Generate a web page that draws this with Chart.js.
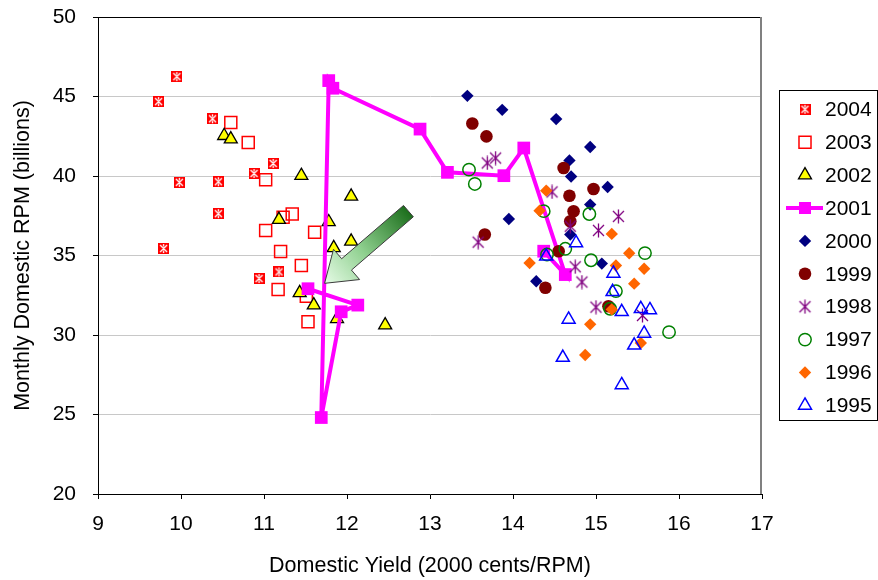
<!DOCTYPE html>
<html>
<head>
<meta charset="utf-8">
<script src="https://cdn.jsdelivr.net/npm/chart.js@4.4.1/dist/chart.umd.min.js"></script>
<style>
    html, body { margin: 0; padding: 0; background: #fff; }
</style>
</head>
<body>
<canvas id="rpmChart" width="878" height="580"></canvas>
<script>
// [yield, rpm] pairs
const y2004 = [[9.95,46.25],[9.73,44.68],[10.38,43.6],[9.98,39.6],[10.45,39.64],[10.88,40.16],[11.11,40.79],[10.45,37.63],[9.79,35.44],[10.94,33.55],[11.18,33.97]];
const y2003 = [[10.60,43.36],[10.81,42.11],[11.02,39.77],[11.23,37.40],[11.34,37.61],[11.02,36.57],[11.61,36.46],[11.20,35.25],[11.45,34.37],[11.17,32.86],[11.51,32.44],[11.53,30.83]];
const y2002 = [[10.52,42.53],[10.60,42.32],[11.45,40.02],[12.05,38.72],[11.18,37.26],[11.78,37.11],[11.84,35.48],[12.05,35.89],[11.43,32.65],[11.60,31.88],[11.88,31.02],[12.46,30.62]];
const y2001 = [[14.37,35.27],[14.63,33.80],[14.13,41.76],[13.89,40.02],[13.21,40.23],[12.88,42.95],[11.83,45.52],[11.78,46.0],[11.69,24.81],[11.93,31.46],[12.13,31.88],[11.53,32.91]];
const y2000 = [[13.45,45.04],[13.87,44.16],[14.52,43.58],[14.93,41.82],[14.68,40.98],[14.70,39.97],[15.14,39.31],[14.93,38.20],[13.95,37.30],[14.69,36.32],[15.07,34.49],[14.28,33.38]];
const y1999 = [[13.51,43.30],[13.68,42.49],[13.66,36.32],[14.61,40.50],[14.97,39.18],[14.68,38.76],[14.73,37.78],[14.69,37.15],[14.55,35.27],[14.39,32.97],[15.15,31.81]];
const y1998 = [[13.69,40.82],[13.79,41.13],[13.58,35.84],[14.47,39.0],[14.69,36.84],[15.27,37.46],[15.03,36.58],[14.75,34.29],[14.83,33.33],[15.0,31.75],[15.56,31.23]];
const y1997 = [[13.47,40.40],[13.54,39.50],[14.37,37.79],[14.92,37.61],[14.41,35.06],[14.63,35.42],[14.94,34.70],[15.59,35.15],[15.24,32.76],[15.17,31.65],[15.88,30.18]];
const y1996 = [[14.40,39.08],[14.32,37.82],[14.20,34.53],[15.19,36.36],[15.40,35.14],[15.24,34.37],[15.58,34.17],[15.46,33.23],[15.19,31.61],[14.93,30.67],[14.87,28.74],[15.54,29.50]];
const y1995 = [[14.40,34.95],[14.76,35.79],[15.21,33.87],[15.20,32.72],[15.31,31.46],[15.54,31.65],[15.65,31.58],[14.67,30.98],[15.58,30.10],[15.46,29.35],[14.60,28.58],[15.31,26.86]];

const years = ['2004', '2003', '2002', '2001', '2000', '1999', '1998', '1997', '1996', '1995'];
const xTicks = [9, 10, 11, 12, 13, 14, 15, 16, 17];
const yTicks = [20, 25, 30, 35, 40, 45, 50];

// arrow annotation (from / to, in data units)
const arrowFrom = [12.74, 37.79];
const arrowTo = [11.73, 33.25];

const FONT = '"Liberation Sans", Arial, sans-serif';

function makeMarker(size, draw) {
    const c = document.createElement('canvas');
    c.width = size;
    c.height = size;
    draw(c.getContext('2d'), size);
    return c;
}

// red box with white cross
const boxCross = makeMarker(11, (g, s) => {
    g.fillStyle = '#ff0000';
    g.fillRect(0, 0, s, s);
    g.strokeStyle = '#ffffff';
    g.lineWidth = 1.3;
    g.beginPath();
    g.moveTo(2, 2); g.lineTo(s - 2, s - 2);
    g.moveTo(s - 2, 2); g.lineTo(2, s - 2);
    g.moveTo(s / 2, 1); g.lineTo(s / 2, 3.5);
    g.moveTo(s / 2, s - 3.5); g.lineTo(s / 2, s - 1);
    g.stroke();
});

// purple asterisk
const asterisk = makeMarker(15, (g, s) => {
    g.strokeStyle = '#800080';
    g.lineWidth = 1.3;
    g.beginPath();
    g.moveTo(2, 2); g.lineTo(s - 2, s - 2);
    g.moveTo(s - 2, 2); g.lineTo(2, s - 2);
    g.moveTo(s / 2, 0.5); g.lineTo(s / 2, s - 0.5);
    g.stroke();
});

const toXY = arr => arr.map(p => ({ x: p[0], y: p[1] }));

function series(i, data, style) {
    return Object.assign({
        label: years[i],
        data: toXY(data),
        order: 9 - i,
        showLine: false,
        pointBorderWidth: 0,
        pointBorderColor: 'rgba(0,0,0,0)',
        pointBackgroundColor: 'rgba(0,0,0,0)'
    }, style);
}

const datasets = [
    series(0, y2004, { pointStyle: boxCross, pointRadius: 6 }),
    series(1, y2003, { pointStyle: 'rect', pointRadius: 8.5, pointBorderColor: '#ff0000', pointBorderWidth: 1.5 }),
    series(2, y2002, { pointStyle: 'triangle', pointRadius: 7.5, pointBackgroundColor: '#ffff00', pointBorderColor: '#000000', pointBorderWidth: 1.3 }),
    series(3, y2001, {
        showLine: true, borderColor: '#ff00ff', borderWidth: 4, tension: 0,
        pointStyle: 'rect', pointRadius: 9, pointBackgroundColor: '#ff00ff', pointBorderColor: '#ff00ff'
    }),
    series(4, y2000, { pointStyle: 'rectRot', pointRadius: 6.2, pointBackgroundColor: '#000080' }),
    series(5, y1999, { pointStyle: 'circle', pointRadius: 6.3, pointBackgroundColor: '#800000' }),
    series(6, y1998, { pointStyle: asterisk, pointRadius: 7 }),
    series(7, y1997, { pointStyle: 'circle', pointRadius: 6.2, pointBorderColor: '#008000', pointBorderWidth: 1.5 }),
    series(8, y1996, { pointStyle: 'rectRot', pointRadius: 6.2, pointBackgroundColor: '#ff6600' }),
    series(9, y1995, { pointStyle: 'triangle', pointRadius: 7.5, pointBorderColor: '#0000ff', pointBorderWidth: 1.5 })
];

const framePlugin = {
    id: 'frame',
    afterDatasetsDraw(chart) {
        const { ctx, chartArea: a, scales } = chart;
        ctx.save();

        // green arrow
        const tx = scales.x.getPixelForValue(arrowFrom[0]), ty = scales.y.getPixelForValue(arrowFrom[1]);
        const hx = scales.x.getPixelForValue(arrowTo[0]), hy = scales.y.getPixelForValue(arrowTo[1]);
        const len = Math.hypot(hx - tx, hy - ty);
        const ux = (hx - tx) / len, uy = (hy - ty) / len;
        const nx = -uy, ny = ux;
        const shaft = 7.5, head = 20, headLen = 29;
        const bx = hx - ux * headLen, by = hy - uy * headLen;
        const grad = ctx.createLinearGradient(tx, ty, hx, hy);
        grad.addColorStop(0, '#1d6f1d');
        grad.addColorStop(0.55, '#8fd08f');
        grad.addColorStop(1, '#e6fbe6');
        ctx.beginPath();
        ctx.moveTo(tx + nx * shaft, ty + ny * shaft);
        ctx.lineTo(bx + nx * shaft, by + ny * shaft);
        ctx.lineTo(bx + nx * head, by + ny * head);
        ctx.lineTo(hx, hy);
        ctx.lineTo(bx - nx * head, by - ny * head);
        ctx.lineTo(bx - nx * shaft, by - ny * shaft);
        ctx.lineTo(tx - nx * shaft, ty - ny * shaft);
        ctx.closePath();
        ctx.fillStyle = grad;
        ctx.fill();
        ctx.strokeStyle = '#3a3a3a';
        ctx.lineWidth = 1;
        ctx.stroke();

        // plot frame: black top, grey right
        ctx.strokeStyle = '#000';
        ctx.lineWidth = 1;
        ctx.beginPath();
        ctx.moveTo(a.left, a.top + 0.5);
        ctx.lineTo(a.right, a.top + 0.5);
        ctx.stroke();
        ctx.strokeStyle = '#808080';
        ctx.lineWidth = 2;
        ctx.beginPath();
        ctx.moveTo(a.right - 1, a.top);
        ctx.lineTo(a.right - 1, a.bottom);
        ctx.stroke();
        ctx.restore();
    },
    afterDraw(chart) {
        // legend box
        const ctx = chart.ctx;
        const left = 779.5, top = 90.5, right = 877.5, bottom = 420.5;
        const firstY = 109.3, step = 32.9, markX = 805, textX = 825;
        ctx.save();
        ctx.fillStyle = '#fff';
        ctx.fillRect(left, top, right - left, bottom - top);
        ctx.strokeStyle = '#000';
        ctx.lineWidth = 1;
        ctx.strokeRect(left, top, right - left, bottom - top);
        chart.data.datasets.forEach((ds, i) => {
            const y = firstY + i * step;
            if (ds.showLine) {
                ctx.strokeStyle = ds.borderColor;
                ctx.lineWidth = ds.borderWidth;
                ctx.beginPath();
                ctx.moveTo(786, y);
                ctx.lineTo(823, y);
                ctx.stroke();
            }
            ctx.fillStyle = ds.pointBackgroundColor;
            ctx.strokeStyle = ds.pointBorderColor;
            ctx.lineWidth = ds.pointBorderWidth;
            Chart.helpers.drawPoint(ctx, {
                pointStyle: ds.pointStyle,
                radius: ds.showLine ? 8.5 : ds.pointRadius,
                rotation: 0,
                borderWidth: ds.pointBorderWidth
            }, markX, y);
            ctx.fillStyle = '#000';
            ctx.font = '21px ' + FONT;
            ctx.textAlign = 'left';
            ctx.textBaseline = 'middle';
            ctx.fillText(ds.label, textX, y + 1);
        });
        ctx.restore();
    }
};

new Chart(document.getElementById('rpmChart'), {
    type: 'scatter',
    data: { datasets: datasets },
    options: {
        responsive: false,
        animation: false,
        events: [],
        layout: { padding: { top: 17, right: 116, left: 0, bottom: 0 } },
        plugins: {
            legend: { display: false },
            tooltip: { enabled: false }
        },
        scales: {
            x: {
                type: 'linear',
                min: xTicks[0],
                max: xTicks[xTicks.length - 1],
                afterBuildTicks: s => { s.ticks = xTicks.map(v => ({ value: v })); },
                afterFit: s => { s.height = 86; },
                ticks: {
                    color: '#000',
                    padding: 13,
                    font: { family: FONT, size: 21 }
                },
                grid: {
                    drawOnChartArea: false,
                    drawTicks: true,
                    tickLength: 5,
                    tickColor: '#000'
                },
                border: { color: '#000', width: 1 },
                title: {
                    display: true,
                    text: 'Domestic Yield (2000 cents/RPM)',
                    color: '#000',
                    font: { family: FONT, size: 21.5 },
                    padding: { top: 0, bottom: 1 }
                }
            },
            y: {
                type: 'linear',
                min: yTicks[0],
                max: yTicks[yTicks.length - 1],
                afterBuildTicks: s => { s.ticks = yTicks.map(v => ({ value: v })); },
                afterFit: s => {
                    s.width = 98;
                    s.paddingTop = 0;
                    s.paddingBottom = 0;
                },
                ticks: {
                    color: '#000',
                    padding: 17,
                    font: { family: FONT, size: 21 }
                },
                grid: {
                    color: '#c8c8c8',
                    drawTicks: true,
                    tickLength: 5,
                    tickColor: '#000'
                },
                border: { color: '#000', width: 1 },
                title: {
                    display: true,
                    text: 'Monthly Domestic RPM (billions)',
                    color: '#000',
                    font: { family: FONT, size: 21.5 },
                    padding: { top: 10, bottom: 0 }
                }
            }
        }
    },
    plugins: [framePlugin]
});
</script>
</body>
</html>
